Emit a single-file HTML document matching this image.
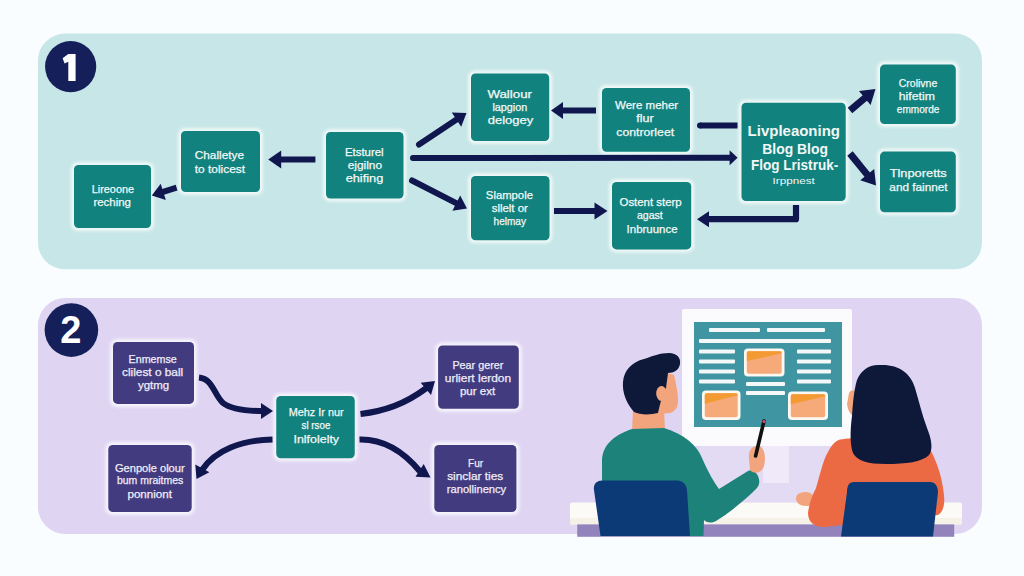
<!DOCTYPE html>
<html><head><meta charset="utf-8"><style>
html,body{margin:0;padding:0;background:#f9fdff;}
svg{display:block;font-family:"Liberation Sans",sans-serif;}
</style></head><body>
<svg width="1024" height="576" viewBox="0 0 1024 576">
<defs><filter id="blur" x="-20%" y="-20%" width="140%" height="140%"><feGaussianBlur stdDeviation="1.5"/></filter></defs>
<rect width="1024" height="576" fill="#f9fdff"/>
<rect x="38" y="33.6" width="944" height="235.7" rx="27" fill="#c7e6e7"/>
<rect x="38" y="298" width="944" height="236" rx="27" fill="#dfd5f3"/>
<circle cx="70.65" cy="66.6" r="25.6" fill="#15205a"/>
<path d="M68.3,54 L75.6,54 L75.6,81 L68.3,81 L68.3,61.8 L64.6,63.6 L62.6,58.2 Z" fill="#ffffff"/>
<circle cx="71.4" cy="330.1" r="26.8" fill="#15205a"/>
<text x="70.8" y="342.7" font-size="38" font-weight="bold" fill="#ffffff" text-anchor="middle">2</text>
<rect x="71" y="162" width="83" height="69" rx="7" fill="#ffffff" opacity="0.7" filter="url(#blur)"/>
<rect x="74" y="165" width="77" height="63" rx="4.5" fill="#11827d"/>
<text x="112.9" y="193.2" font-size="10.5" font-weight="normal" fill="#f2f8f7" stroke="#f2f8f7" stroke-width="0.25" text-anchor="middle" textLength="42.2" lengthAdjust="spacingAndGlyphs">Lireoone</text>
<text x="112.2" y="206.0" font-size="10.5" font-weight="normal" fill="#f2f8f7" stroke="#f2f8f7" stroke-width="0.25" text-anchor="middle" textLength="37.6" lengthAdjust="spacingAndGlyphs">reching</text>
<rect x="178" y="128" width="85" height="67" rx="7" fill="#ffffff" opacity="0.7" filter="url(#blur)"/>
<rect x="181" y="131" width="79" height="61" rx="4.5" fill="#11827d"/>
<text x="219.4" y="159.1" font-size="10.5" font-weight="normal" fill="#f2f8f7" stroke="#f2f8f7" stroke-width="0.25" text-anchor="middle" textLength="49.3" lengthAdjust="spacingAndGlyphs">Challetye</text>
<text x="219.9" y="172.5" font-size="10.5" font-weight="normal" fill="#f2f8f7" stroke="#f2f8f7" stroke-width="0.25" text-anchor="middle" textLength="50.2" lengthAdjust="spacingAndGlyphs">to tolicest</text>
<rect x="323" y="129" width="83.5" height="72.5" rx="7" fill="#ffffff" opacity="0.7" filter="url(#blur)"/>
<rect x="326" y="132" width="77.5" height="66.5" rx="4.5" fill="#11827d"/>
<text x="364.3" y="156.0" font-size="10.5" font-weight="normal" fill="#f2f8f7" stroke="#f2f8f7" stroke-width="0.25" text-anchor="middle" textLength="38.6" lengthAdjust="spacingAndGlyphs">Etsturel</text>
<text x="364.9" y="169.3" font-size="10.5" font-weight="normal" fill="#f2f8f7" stroke="#f2f8f7" stroke-width="0.25" text-anchor="middle" textLength="34.3" lengthAdjust="spacingAndGlyphs">ejgilno</text>
<text x="364.5" y="182.2" font-size="10.5" font-weight="normal" fill="#f2f8f7" stroke="#f2f8f7" stroke-width="0.25" text-anchor="middle" textLength="37.6" lengthAdjust="spacingAndGlyphs">ehifing</text>
<rect x="468" y="70.4" width="84.20000000000005" height="73.69999999999999" rx="7" fill="#ffffff" opacity="0.7" filter="url(#blur)"/>
<rect x="471" y="73.4" width="78.20000000000005" height="67.69999999999999" rx="4.5" fill="#11827d"/>
<text x="509.7" y="97.5" font-size="10.5" font-weight="normal" fill="#f2f8f7" stroke="#f2f8f7" stroke-width="0.25" text-anchor="middle" textLength="44.6" lengthAdjust="spacingAndGlyphs">Wallour</text>
<text x="509.8" y="110.6" font-size="10.5" font-weight="normal" fill="#f2f8f7" stroke="#f2f8f7" stroke-width="0.25" text-anchor="middle" textLength="34.8" lengthAdjust="spacingAndGlyphs">lapgion</text>
<text x="510.5" y="123.8" font-size="10.5" font-weight="normal" fill="#f2f8f7" stroke="#f2f8f7" stroke-width="0.25" text-anchor="middle" textLength="45.7" lengthAdjust="spacingAndGlyphs">delogey</text>
<rect x="468" y="173" width="84.5" height="70.30000000000001" rx="7" fill="#ffffff" opacity="0.7" filter="url(#blur)"/>
<rect x="471" y="176" width="78.5" height="64.30000000000001" rx="4.5" fill="#11827d"/>
<text x="509.4" y="198.6" font-size="10.5" font-weight="normal" fill="#f2f8f7" stroke="#f2f8f7" stroke-width="0.25" text-anchor="middle" textLength="47.1" lengthAdjust="spacingAndGlyphs">Slampole</text>
<text x="509.8" y="211.8" font-size="10.5" font-weight="normal" fill="#f2f8f7" stroke="#f2f8f7" stroke-width="0.25" text-anchor="middle" textLength="36.2" lengthAdjust="spacingAndGlyphs">sllelt or</text>
<text x="509.8" y="224.7" font-size="10.5" font-weight="normal" fill="#f2f8f7" stroke="#f2f8f7" stroke-width="0.25" text-anchor="middle" textLength="32.4" lengthAdjust="spacingAndGlyphs">helmay</text>
<rect x="599" y="85" width="94" height="69.80000000000001" rx="7" fill="#ffffff" opacity="0.7" filter="url(#blur)"/>
<rect x="602" y="88" width="88" height="63.80000000000001" rx="4.5" fill="#11827d"/>
<text x="646.6" y="109.3" font-size="10.5" font-weight="normal" fill="#f2f8f7" stroke="#f2f8f7" stroke-width="0.25" text-anchor="middle" textLength="63.2" lengthAdjust="spacingAndGlyphs">Were meher</text>
<text x="644.9" y="122.2" font-size="10.5" font-weight="normal" fill="#f2f8f7" stroke="#f2f8f7" stroke-width="0.25" text-anchor="middle" textLength="17.4" lengthAdjust="spacingAndGlyphs">flur</text>
<text x="645.2" y="135.7" font-size="10.5" font-weight="normal" fill="#f2f8f7" stroke="#f2f8f7" stroke-width="0.25" text-anchor="middle" textLength="57.8" lengthAdjust="spacingAndGlyphs">controrleet</text>
<rect x="609" y="179" width="85.20000000000005" height="73.4" rx="7" fill="#ffffff" opacity="0.7" filter="url(#blur)"/>
<rect x="612" y="182" width="79.20000000000005" height="67.4" rx="4.5" fill="#11827d"/>
<text x="650.6" y="206.1" font-size="10.5" font-weight="normal" fill="#f2f8f7" stroke="#f2f8f7" stroke-width="0.25" text-anchor="middle" textLength="62.2" lengthAdjust="spacingAndGlyphs">Ostent sterp</text>
<text x="649.9" y="219.2" font-size="10.5" font-weight="normal" fill="#f2f8f7" stroke="#f2f8f7" stroke-width="0.25" text-anchor="middle" textLength="25.8" lengthAdjust="spacingAndGlyphs">agast</text>
<text x="652.1" y="232.8" font-size="10.5" font-weight="normal" fill="#f2f8f7" stroke="#f2f8f7" stroke-width="0.25" text-anchor="middle" textLength="51.0" lengthAdjust="spacingAndGlyphs">Inbruunce</text>
<rect x="738.5" y="99.7" width="110.20000000000005" height="104.39999999999999" rx="7" fill="#ffffff" opacity="0.7" filter="url(#blur)"/>
<rect x="741.5" y="102.7" width="104.20000000000005" height="98.39999999999999" rx="4.5" fill="#11827d"/>
<text x="793.8" y="135.5" font-size="14" font-weight="bold" fill="#f2f8f7" stroke="#f2f8f7" stroke-width="0" text-anchor="middle" textLength="92.4" lengthAdjust="spacingAndGlyphs">Livpleaoning</text>
<text x="795.1" y="154.3" font-size="14" font-weight="bold" fill="#f2f8f7" stroke="#f2f8f7" stroke-width="0" text-anchor="middle" textLength="65.6" lengthAdjust="spacingAndGlyphs">Blog Blog</text>
<text x="794.6" y="170.2" font-size="14" font-weight="bold" fill="#f2f8f7" stroke="#f2f8f7" stroke-width="0" text-anchor="middle" textLength="87.2" lengthAdjust="spacingAndGlyphs">Flog Lristruk-</text>
<text x="793.7" y="183.9" font-size="9.5" font-weight="normal" fill="#f2f8f7" stroke="#f2f8f7" stroke-width="0" text-anchor="middle" textLength="42.2" lengthAdjust="spacingAndGlyphs">Irppnest</text>
<rect x="877" y="61.599999999999994" width="81.79999999999995" height="65.5" rx="7" fill="#ffffff" opacity="0.7" filter="url(#blur)"/>
<rect x="880" y="64.6" width="75.79999999999995" height="59.5" rx="4.5" fill="#11827d"/>
<text x="918.0" y="86.5" font-size="10.5" font-weight="normal" fill="#f2f8f7" stroke="#f2f8f7" stroke-width="0.25" text-anchor="middle" textLength="38.5" lengthAdjust="spacingAndGlyphs">Crolivne</text>
<text x="916.8" y="99.5" font-size="10.5" font-weight="normal" fill="#f2f8f7" stroke="#f2f8f7" stroke-width="0.25" text-anchor="middle" textLength="36.1" lengthAdjust="spacingAndGlyphs">hifetim</text>
<text x="918.1" y="112.5" font-size="10.5" font-weight="normal" fill="#f2f8f7" stroke="#f2f8f7" stroke-width="0.25" text-anchor="middle" textLength="42.5" lengthAdjust="spacingAndGlyphs">emmorde</text>
<rect x="877" y="148.6" width="81.79999999999995" height="66.70000000000002" rx="7" fill="#ffffff" opacity="0.7" filter="url(#blur)"/>
<rect x="880" y="151.6" width="75.79999999999995" height="60.70000000000002" rx="4.5" fill="#11827d"/>
<text x="918.2" y="177.1" font-size="10.5" font-weight="normal" fill="#f2f8f7" stroke="#f2f8f7" stroke-width="0.25" text-anchor="middle" textLength="57.1" lengthAdjust="spacingAndGlyphs">Tlnporetts</text>
<text x="918.5" y="191.0" font-size="10.5" font-weight="normal" fill="#f2f8f7" stroke="#f2f8f7" stroke-width="0.25" text-anchor="middle" textLength="58.3" lengthAdjust="spacingAndGlyphs">and fainnet</text>
<line x1="176.6" y1="187.7" x2="162.3" y2="192.1" stroke="#10164e" stroke-width="6.0" stroke-linecap="butt"/>
<polygon points="151.8,195.4 160.7,183.7 165.8,200.0" fill="#10164e"/>
<line x1="315.4" y1="159.5" x2="280.2" y2="159.5" stroke="#10164e" stroke-width="6.0" stroke-linecap="butt"/>
<polygon points="268.2,159.5 281.2,150.5 281.2,168.5" fill="#10164e"/>
<line x1="419" y1="144.5" x2="457.3" y2="119.1" stroke="#10164e" stroke-width="6.0" stroke-linecap="round"/>
<polygon points="466.5,113 461.2,126.7 451.8,112.5" fill="#10164e"/>
<line x1="412" y1="180.5" x2="457.2" y2="203.6" stroke="#10164e" stroke-width="6.0" stroke-linecap="round"/>
<polygon points="467,208.6 452.4,210.7 460.2,195.6" fill="#10164e"/>
<line x1="413" y1="158" x2="730.6" y2="157.7" stroke="#10164e" stroke-width="6.0" stroke-linecap="round"/>
<polygon points="737.6,157.7 729.6,165.2 729.6,150.2" fill="#10164e"/>
<line x1="596" y1="110.5" x2="562.0" y2="110.5" stroke="#10164e" stroke-width="6.0" stroke-linecap="butt"/>
<polygon points="551,110.5 563.0,102.0 563.0,119.0" fill="#10164e"/>
<line x1="700" y1="125.5" x2="737.5" y2="125.5" stroke="#10164e" stroke-width="6" stroke-linecap="butt"/><circle cx="700" cy="125.5" r="3" fill="#10164e"/>
<line x1="554" y1="211" x2="595.5" y2="211.0" stroke="#10164e" stroke-width="6.0" stroke-linecap="butt"/>
<polygon points="607.5,211 594.5,219.5 594.5,202.5" fill="#10164e"/>
<polyline points="796,205 796,219.2 709,219.2" fill="none" stroke="#10164e" stroke-width="6.2" stroke-linejoin="round" stroke-linecap="butt"/>
<polygon points="697,219.2 709.0,211.2 709.0,227.2" fill="#10164e"/>
<line x1="850" y1="110.5" x2="865.6" y2="97.4" stroke="#10164e" stroke-width="7" stroke-linecap="butt"/>
<polygon points="875.5,89 870.6,104.9 859.0,91.1" fill="#10164e"/>
<line x1="850" y1="153.5" x2="867.8" y2="175.4" stroke="#10164e" stroke-width="7" stroke-linecap="butt"/>
<polygon points="876,185.5 860.2,180.3 874.2,169.0" fill="#10164e"/>
<rect x="110" y="339" width="87" height="67.89999999999998" rx="7" fill="#ffffff" opacity="0.7" filter="url(#blur)"/>
<rect x="113" y="342" width="81" height="61.89999999999998" rx="4.5" fill="#433b80"/>
<text x="152.7" y="362.6" font-size="10.5" font-weight="normal" fill="#efedf7" stroke="#efedf7" stroke-width="0.25" text-anchor="middle" textLength="48.2" lengthAdjust="spacingAndGlyphs">Enmemse</text>
<text x="152.6" y="375.5" font-size="10.5" font-weight="normal" fill="#efedf7" stroke="#efedf7" stroke-width="0.25" text-anchor="middle" textLength="61.2" lengthAdjust="spacingAndGlyphs">clilest o ball</text>
<text x="153.6" y="388.5" font-size="10.5" font-weight="normal" fill="#efedf7" stroke="#efedf7" stroke-width="0.25" text-anchor="middle" textLength="31.2" lengthAdjust="spacingAndGlyphs">ygtmg</text>
<rect x="273.25" y="393" width="84.5" height="68.25" rx="7" fill="#ffffff" opacity="0.7" filter="url(#blur)"/>
<rect x="276.25" y="396" width="78.5" height="62.25" rx="4.5" fill="#11827d"/>
<text x="316.2" y="415.8" font-size="10.5" font-weight="normal" fill="#f2f8f7" stroke="#f2f8f7" stroke-width="0.25" text-anchor="middle" textLength="55.0" lengthAdjust="spacingAndGlyphs">Mehz Ir nur</text>
<text x="316.0" y="428.8" font-size="10.5" font-weight="normal" fill="#f2f8f7" stroke="#f2f8f7" stroke-width="0.25" text-anchor="middle" textLength="28.8" lengthAdjust="spacingAndGlyphs">sl rsoe</text>
<text x="316.3" y="442.5" font-size="10.5" font-weight="normal" fill="#f2f8f7" stroke="#f2f8f7" stroke-width="0.25" text-anchor="middle" textLength="45.6" lengthAdjust="spacingAndGlyphs">Inlfolelty</text>
<rect x="435.1" y="342.4" width="86.69999999999993" height="69.30000000000001" rx="7" fill="#ffffff" opacity="0.7" filter="url(#blur)"/>
<rect x="438.1" y="345.4" width="80.69999999999993" height="63.30000000000001" rx="4.5" fill="#433b80"/>
<text x="477.9" y="368.9" font-size="10.5" font-weight="normal" fill="#efedf7" stroke="#efedf7" stroke-width="0.25" text-anchor="middle" textLength="50.9" lengthAdjust="spacingAndGlyphs">Pear gerer</text>
<text x="478.0" y="382.1" font-size="10.5" font-weight="normal" fill="#efedf7" stroke="#efedf7" stroke-width="0.25" text-anchor="middle" textLength="66.3" lengthAdjust="spacingAndGlyphs">urliert lerdon</text>
<text x="477.6" y="394.6" font-size="10.5" font-weight="normal" fill="#efedf7" stroke="#efedf7" stroke-width="0.25" text-anchor="middle" textLength="35.3" lengthAdjust="spacingAndGlyphs">pur ext</text>
<rect x="105.3" y="442" width="89.39999999999999" height="73" rx="7" fill="#ffffff" opacity="0.7" filter="url(#blur)"/>
<rect x="108.3" y="445" width="83.39999999999999" height="67" rx="4.5" fill="#433b80"/>
<text x="149.8" y="471.7" font-size="10.5" font-weight="normal" fill="#efedf7" stroke="#efedf7" stroke-width="0.25" text-anchor="middle" textLength="69.7" lengthAdjust="spacingAndGlyphs">Genpole olour</text>
<text x="150.1" y="484.2" font-size="10.5" font-weight="normal" fill="#efedf7" stroke="#efedf7" stroke-width="0.25" text-anchor="middle" textLength="66.4" lengthAdjust="spacingAndGlyphs">bum mraitmes</text>
<text x="149.7" y="498.1" font-size="10.5" font-weight="normal" fill="#efedf7" stroke="#efedf7" stroke-width="0.25" text-anchor="middle" textLength="44.5" lengthAdjust="spacingAndGlyphs">ponniont</text>
<rect x="431.3" y="442" width="88.09999999999997" height="73" rx="7" fill="#ffffff" opacity="0.7" filter="url(#blur)"/>
<rect x="434.3" y="445" width="82.09999999999997" height="67" rx="4.5" fill="#433b80"/>
<text x="475.6" y="466.7" font-size="10.5" font-weight="normal" fill="#efedf7" stroke="#efedf7" stroke-width="0.25" text-anchor="middle" textLength="15.1" lengthAdjust="spacingAndGlyphs">Fur</text>
<text x="475.2" y="479.9" font-size="10.5" font-weight="normal" fill="#efedf7" stroke="#efedf7" stroke-width="0.25" text-anchor="middle" textLength="56.0" lengthAdjust="spacingAndGlyphs">sinclar ties</text>
<text x="476.5" y="492.8" font-size="10.5" font-weight="normal" fill="#efedf7" stroke="#efedf7" stroke-width="0.25" text-anchor="middle" textLength="59.4" lengthAdjust="spacingAndGlyphs">ranollinency</text>
<path d="M199,377.5 C213,379 214,395 223,403 C232,410 248,411 263,411" fill="none" stroke="#10164e" stroke-width="6.0" stroke-linecap="butt"/>
<polygon points="273,411 261.0,419.0 261.0,403.0" fill="#10164e"/>
<path d="M360.5,414 C385,411 405,404 426.5,388" fill="none" stroke="#10164e" stroke-width="6.0" stroke-linecap="butt"/>
<polygon points="435,381 431.0,394.9 420.7,382.7" fill="#10164e"/>
<path d="M272.5,439.5 C242,440 215,450 202,470" fill="none" stroke="#10164e" stroke-width="6.0" stroke-linecap="butt"/>
<polygon points="196.5,479 195.3,464.6 209.3,472.3" fill="#10164e"/>
<path d="M359.5,439.5 C385,439 404,452 420,471.5" fill="none" stroke="#10164e" stroke-width="6.0" stroke-linecap="butt"/>
<polygon points="430.5,477.5 415.5,476.7 423.7,464.1" fill="#10164e"/>
<rect x="699" y="446" width="132" height="56" fill="#e2dbf3"/>
<rect x="763" y="446" width="26" height="37" fill="#efe9fa"/>
<rect x="682" y="309" width="170" height="137" rx="2" fill="#fbfbfd"/>
<rect x="694" y="322" width="148" height="105" fill="#3f95a2"/>
<rect x="709" y="328.0" width="51" height="4" rx="1" fill="#f4f8f8"/>
<rect x="767" y="328.0" width="58" height="4" rx="1" fill="#f4f8f8"/>
<rect x="699" y="339.0" width="132" height="4" rx="1" fill="#f4f8f8"/>
<rect x="699" y="349.5" width="36" height="4" rx="1" fill="#f4f8f8"/>
<rect x="797" y="349.5" width="34" height="4" rx="1" fill="#f4f8f8"/>
<rect x="699" y="359.5" width="36" height="4" rx="1" fill="#f4f8f8"/>
<rect x="797" y="359.5" width="34" height="4" rx="1" fill="#f4f8f8"/>
<rect x="699" y="369.5" width="36" height="4" rx="1" fill="#f4f8f8"/>
<rect x="797" y="369.5" width="34" height="4" rx="1" fill="#f4f8f8"/>
<rect x="699" y="379.5" width="36" height="4" rx="1" fill="#f4f8f8"/>
<rect x="797" y="379.5" width="34" height="4" rx="1" fill="#f4f8f8"/>
<rect x="746" y="382.0" width="39" height="4" rx="1" fill="#f4f8f8"/>
<rect x="746" y="391.0" width="39" height="4" rx="1" fill="#f4f8f8"/>
<rect x="744" y="348.5" width="40.5" height="28.0" rx="4" fill="#fdf8f2"/>
<rect x="746.8" y="351.3" width="34.9" height="22.4" rx="2" fill="#f7aa79"/>
<path d="M746.8,353.0 Q746.8,351.3 748.5,351.3 H780.0 Q781.7,351.3 781.7,353.0 V353.3 L746.8,361.1 Z" fill="#f39a33"/>
<rect x="702" y="390.5" width="38.5" height="29.5" rx="4" fill="#fdf8f2"/>
<rect x="704.8" y="393.3" width="32.9" height="23.9" rx="2" fill="#f7aa79"/>
<path d="M704.8,395.0 Q704.8,393.3 706.5,393.3 H736.0 Q737.7,393.3 737.7,395.0 V395.3 L704.8,403.8 Z" fill="#f39a33"/>
<rect x="788" y="391.5" width="40" height="28.5" rx="4" fill="#fdf8f2"/>
<rect x="790.8" y="394.3" width="34.4" height="22.9" rx="2" fill="#f7aa79"/>
<path d="M790.8,396.0 Q790.8,394.3 792.5,394.3 H823.5 Q825.2,394.3 825.2,396.0 V396.3 L790.8,404.3 Z" fill="#f39a33"/>
<rect x="570" y="502.4" width="392" height="22" rx="2" fill="#fbfaf6"/>
<rect x="570" y="518" width="392" height="6.4" fill="#f6f1e6"/>
<rect x="577.2" y="524.4" width="377" height="12.4" fill="#9383bd"/>
<path d="M633,408 L664,408 L665,432 L632,432 Z" fill="#f2a47c"/>
<path d="M660,371 L674,375 C676,384 678,392 678,400 C678,407 676,411 670,413 L658,414 Z" fill="#f2a47c"/>
<path d="M634,412 C627,404 622,393 623,382 C624,370 632,362 644,359 C653,356 660,353 669,353 C677,353 681,358 680,364 C679,370 674,373 668,373 L666,388 C662,395 660,404 658,413 C650,415 640,415 634,412 Z" fill="#0e1838"/>
<ellipse cx="661.5" cy="393.5" rx="5.3" ry="7.5" fill="#f2a47c"/>
<path d="M602,536 L602,462 C602,446 612,436 632,429 L664,428 C684,434 697,445 702,458 C708,472 714,482 719,489 L748,471 C752,469 756,472 758,476 C760,481 760,485 756,489 C745,500 728,514 716,521 C710,524 706,522 704,520 L703.5,536 Z" fill="#1d837a"/>
<path d="M749,459 C748,450 753,445 759,446 C765,448 766,458 764,466 C762,473 754,475 750,470 Z" fill="#f2a47c"/>
<line x1="764" y1="421" x2="755.6" y2="456" stroke="#111111" stroke-width="3.6" stroke-linecap="round"/>
<circle cx="764" cy="421.5" r="1.6" fill="#d84a78"/>
<path d="M602,480.5 L676,480.5 C682,480.5 686,483 687,490 L690,536 L600.5,536 L594,490 C593,484 597,480.5 602,480.5 Z" fill="#0c3a76"/>
<path d="M796,498 C796,494 801,492 806,492 C811,492 815,496 815,500 C815,504 811,506 806,506 C800,506 796,503 796,498 Z" fill="#f2a47c"/>
<path d="M840,439.5 C860,436 912,437 929,447 C936,460 942,475 944,495 C945,505 943,512 938,515 L900,518 L825,527 C815,528 808,522 808,513 C809,504 812,496 816,488 C820,475 823,460 828,452 C831,446 835,441 840,439.5 Z" fill="#ec6a43"/>
<path d="M849,393 C851,389 856,389 857,395 L856,416 C852,417 848,412 847,404 Z" fill="#f2a47c"/>
<path d="M880,365 C870,364 861,370 857,380 C854,390 853,402 852,416 C850,431 850,445 853,453 C857,461 868,464 886,464 C906,464 922,462 929,455 C933,450 932,440 927,428 C922,415 919,401 915,388 C911,373 898,364 880,365 Z" fill="#0e1838"/>
<path d="M854,482 L930,482 C935,482 938,486 938,492 L933,536.5 L841,536.5 L847,492 C847,486 849,482 854,482 Z" fill="#0c3a76"/>
</svg></body></html>
